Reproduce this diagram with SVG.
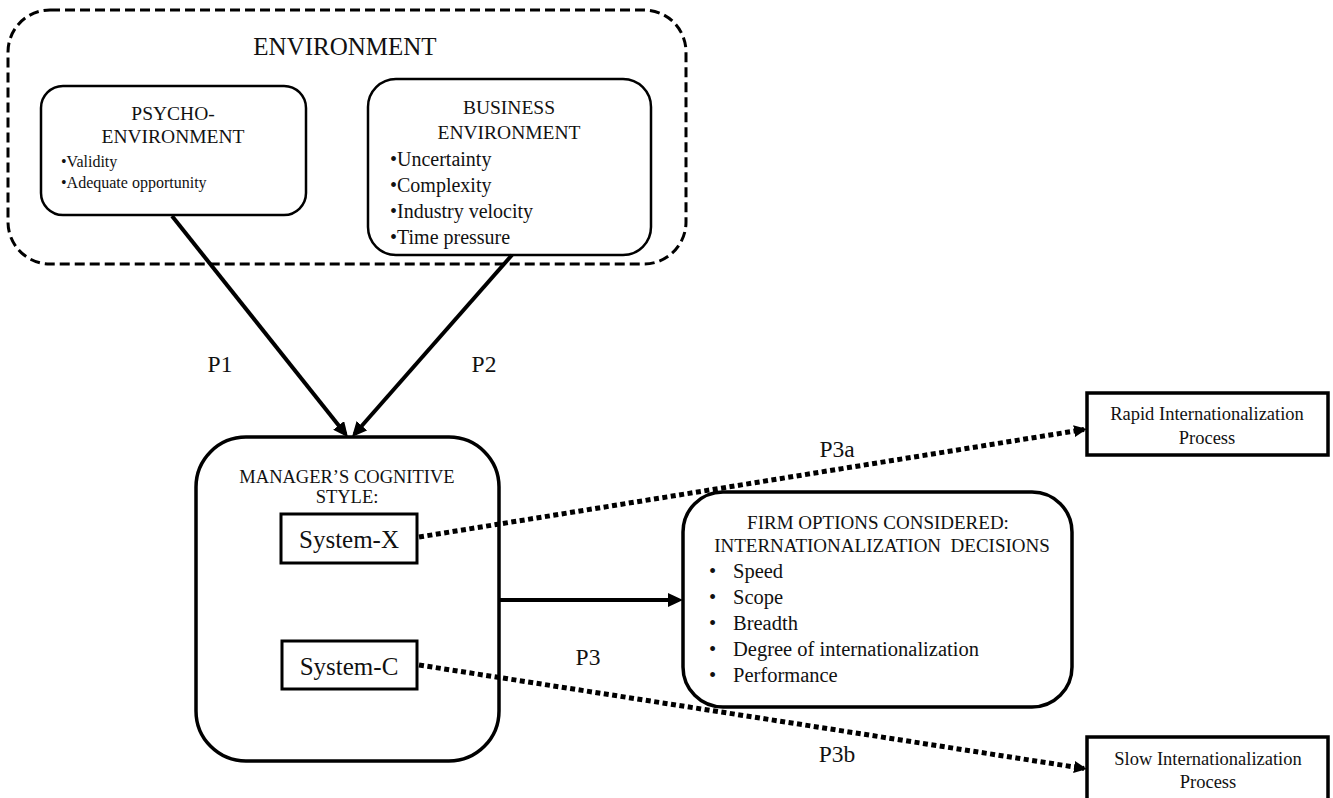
<svg xmlns="http://www.w3.org/2000/svg" width="1333" height="798" viewBox="0 0 1333 798" font-family="'Liberation Serif', Tinos, 'Times New Roman', Times, 'Noto Serif', 'DejaVu Serif', serif">
<style>
text{font-family:'Liberation Serif',Tinos,'Times New Roman',Times,'Noto Serif','DejaVu Serif',serif;fill:#111}
.c{text-anchor:middle}
.box{fill:#fff;stroke:#000}
.solid{fill:none;stroke:#000;stroke-width:4}
.dot{fill:none;stroke:#000;stroke-width:5;stroke-dasharray:5 3.5}
.lbl{font-size:23.5px;text-anchor:middle}
</style>
<defs>
<marker id="ah" markerUnits="userSpaceOnUse" markerWidth="16" markerHeight="14" refX="11" refY="7" orient="auto">
<path d="M0,0 L15,7 L0,14 z" fill="#000"/>
</marker>
<marker id="ahs" markerUnits="userSpaceOnUse" markerWidth="14" markerHeight="12" refX="10" refY="6" orient="auto">
<path d="M0,0 L13,6 L0,12 z" fill="#000"/>
</marker>
</defs>
<rect x="0" y="0" width="1333" height="798" fill="#fff"/>

<g id="environment">
<rect x="8" y="10" width="678" height="254" rx="42" fill="none" stroke="#000" stroke-width="3" stroke-dasharray="10 5"/>
<text x="345" y="55" class="c" style="font-size:25px">ENVIRONMENT</text>
</g>

<g id="psycho">
<rect class="box" x="41" y="86" width="265" height="129" rx="22" stroke-width="2.5"/>
<text x="173" y="120" class="c" style="font-size:19.5px">PSYCHO-</text>
<text x="173" y="143" class="c" style="font-size:19.5px">ENVIRONMENT</text>
<text x="61" y="167" style="font-size:16px">•Validity</text>
<text x="61" y="188" style="font-size:16px">•Adequate opportunity</text>
</g>

<g id="business">
<rect class="box" x="368" y="79" width="283" height="176" rx="28" stroke-width="2.5"/>
<text x="509" y="114" class="c" style="font-size:19.5px">BUSINESS</text>
<text x="509" y="139" class="c" style="font-size:19.5px">ENVIRONMENT</text>
<text x="390" y="166" style="font-size:20px">•Uncertainty</text>
<text x="390" y="192" style="font-size:20px">•Complexity</text>
<text x="390" y="218" style="font-size:20px">•Industry velocity</text>
<text x="390" y="244" style="font-size:20px">•Time pressure</text>
</g>

<g id="manager">
<rect class="box" x="196" y="437" width="303" height="324" rx="50" stroke-width="3.5"/>
<text x="347" y="483" class="c" style="font-size:18.5px">MANAGER’S COGNITIVE</text>
<text x="347" y="503" class="c" style="font-size:18.5px">STYLE:</text>
</g>

<g id="system-x">
<rect class="box" x="281" y="514" width="136" height="49" stroke-width="3"/>
<text x="349" y="548" class="c" style="font-size:25px">System-X</text>
</g>

<g id="system-c">
<rect class="box" x="282" y="641" width="135" height="48" stroke-width="3"/>
<text x="349" y="675" class="c" style="font-size:25px">System-C</text>
</g>

<g id="firm">
<rect class="box" x="683" y="492" width="389" height="215" rx="40" stroke-width="3.5"/>
<text x="878" y="529" class="c" style="font-size:19px">FIRM OPTIONS CONSIDERED:</text>
<text x="882" y="552" class="c" style="font-size:19px" xml:space="preserve">INTERNATIONALIZATION  DECISIONS</text>
<g style="font-size:20.5px">
<text x="709" y="578">•</text><text x="733" y="578">Speed</text>
<text x="709" y="604">•</text><text x="733" y="604">Scope</text>
<text x="709" y="630">•</text><text x="733" y="630">Breadth</text>
<text x="709" y="656">•</text><text x="733" y="656">Degree of internationalization</text>
<text x="709" y="682">•</text><text x="733" y="682">Performance</text>
</g>
</g>

<g id="rapid">
<rect class="box" x="1087" y="393" width="241" height="62" stroke-width="3.5"/>
<text x="1207" y="420" class="c" style="font-size:18.5px">Rapid Internationalization</text>
<text x="1207" y="444" class="c" style="font-size:18.5px">Process</text>
</g>

<g id="slow">
<rect class="box" x="1087" y="737" width="241" height="64" stroke-width="3.5"/>
<text x="1208" y="765" class="c" style="font-size:18.5px">Slow Internationalization</text>
<text x="1208" y="788" class="c" style="font-size:18.5px">Process</text>
</g>

<g id="connectors">
<line class="solid" x1="172" y1="216" x2="345.5" y2="434" marker-end="url(#ah)"/>
<line class="solid" x1="512" y1="255" x2="354.6" y2="434" marker-end="url(#ah)"/>
<line class="solid" x1="499" y1="600" x2="679" y2="600" marker-end="url(#ah)"/>
<line class="dot" x1="419" y1="537" x2="1084" y2="429.5" marker-end="url(#ahs)"/>
<line class="dot" x1="419" y1="665" x2="1084" y2="768.5" marker-end="url(#ahs)"/>
<text x="220" y="372" class="lbl">P1</text>
<text x="484" y="372" class="lbl">P2</text>
<text x="588" y="665" class="lbl">P3</text>
<text x="837" y="457" class="lbl">P3a</text>
<text x="837" y="762" class="lbl">P3b</text>
</g>
</svg>
